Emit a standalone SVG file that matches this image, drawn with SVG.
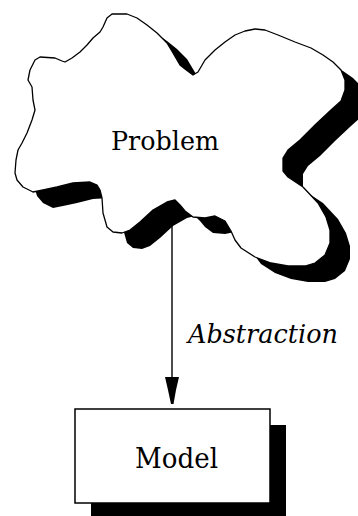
<svg xmlns="http://www.w3.org/2000/svg" width="358" height="516" viewBox="0 0 358 516">
<style>
.lbl{font-family:"DejaVu Serif","Liberation Serif","Times New Roman",serif;fill:#000}
.outline{fill:#fff;stroke:#000;stroke-width:1.3;stroke-linejoin:round}
.shadow{fill:#000;stroke:none}
.conn{stroke:#000;stroke-width:1.4;fill:none}
</style>
<defs>
<path id="cloud" d="M112,14 L127,14 L137,18 L147,25 L157,33 L167,43 L173,53 L180,65 L185,69 L193,75 L198,72 L205,60 L215,50 L225,42 L235,35 L245,31 L255,29 L265,30 L278,35 L295,42 L311,48 L323,55 L333,62 L341,70 L345,80 L345,90 L341,101 L331,110 L315,125 L300,140 L288,150 L283,158 L283,171 L288,177 L303,187 L318,203 L326,217 L330,230 L330,243 L325,255 L315,263 L305,266 L288,266 L271,263 L255,257 L241,248 L235,240 L231,231 L225,221 L215,216 L205,218 L193,217 L185,211 L180,205 L175,200 L167,202 L153,210 L140,222 L130,230 L122,233 L113,232 L107,227 L103,213 L102,198 L100,190 L97,185 L90,182 L73,183 L57,187 L43,190 L33,192 L23,187 L17,180 L15,173 L16,160 L18,150 L22,143 L27,133 L32,120 L35,110 L33,100 L32,87 L28,80 L30,70 L35,60 L40,57 L55,58 L62,61 L65,62 L72,58 L80,52 L87,45 L93,38 L100,32 L103,27 L107,18 Z"/>
</defs>
<g id="connectors">
<line class="conn" x1="172" y1="205" x2="172" y2="380"/>
<polygon points="165,377 179,377 176,390 173.5,404 171,404 168,390" fill="#000"/>
<text class="lbl" x="188" y="343" font-size="26" font-style="italic" textLength="150" lengthAdjust="spacingAndGlyphs">Abstraction</text>
</g>
<g id="problem">
<use href="#cloud" class="shadow" transform="translate(20,16)"/>
<use href="#cloud" class="outline"/>
<text class="lbl" x="111" y="150" font-size="26" textLength="108" lengthAdjust="spacingAndGlyphs">Problem</text>
</g>
<g id="model">
<rect x="91" y="425" width="195" height="95" fill="#000"/>
<rect x="75" y="409" width="195" height="94" fill="#fff" stroke="#000" stroke-width="1.5"/>
<text class="lbl" x="135" y="468" font-size="27" textLength="83" lengthAdjust="spacingAndGlyphs">Model</text>
</g>
</svg>
